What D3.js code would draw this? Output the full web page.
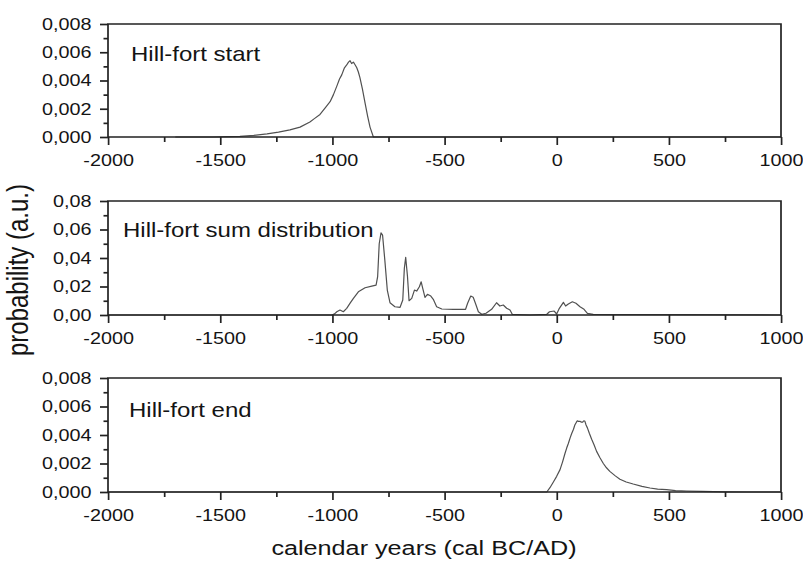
<!DOCTYPE html>
<html>
<head>
<meta charset="utf-8">
<script src="https://cdn.jsdelivr.net/npm/d3@7"></script>
<style>
  body { margin: 0; background: #fff; }
  text { font-family: Arial, "Liberation Sans", sans-serif; fill: #141414; }
  .axis line, .frame, .curve { vector-effect: non-scaling-stroke; }
</style>
</head>
<body>
<script>
// values (year cal BC/AD, probability)
var startYears = [-1700, -1532, -1470, -1412, -1350, -1291, -1240, -1189, -1144, -1100, -1080, -1055, -1030, -1010, -995, -980, -968, -958, -946, -936, -928, -921, -914, -906, -898, -891, -884, -877, -866, -854, -843, -832, -817, -700, 1000];
var startProb  = [0, 0, 0.00002, 0.00005, 0.00012, 0.00022, 0.00034, 0.0005, 0.0007, 0.00106, 0.0013, 0.0016, 0.0021, 0.0025, 0.0030, 0.0036, 0.0041, 0.0044, 0.0049, 0.0051, 0.0053, 0.0054, 0.0052, 0.0053, 0.0051, 0.0049, 0.0046, 0.0042, 0.0034, 0.0024, 0.0015, 0.0007, 0, 0, 0];

var sumYears = [-2000, -1003, -990, -980, -966, -951, -936, -920, -906, -884, -854, -824, -805, -798, -791, -783, -776, -766, -755, -743, -721, -698, -686, -679, -673, -665, -658, -646, -634, -624, -612, -604, -597, -587, -576, -561, -550, -535, -512, -461, -406, -397, -383, -372, -361, -349, -334, -315, -290, -268, -253, -238, -223, -208, -198, -120, -44, -32, -11, 0, 12, 30, 40, 52, 70, 86, 104, 122, 137, 163, 1000];
var sumProb  = [0, 0, 0.0008, 0.0023, 0.0035, 0.0023, 0.0047, 0.0085, 0.0117, 0.0163, 0.0191, 0.0203, 0.021, 0.027, 0.050, 0.0576, 0.056, 0.0385, 0.0175, 0.0086, 0.0058, 0.0054, 0.0105, 0.0327, 0.0404, 0.027, 0.010, 0.0117, 0.0175, 0.0168, 0.0198, 0.0233, 0.0187, 0.0124, 0.0145, 0.0133, 0.011, 0.0058, 0.0042, 0.004, 0.004, 0.0082, 0.0133, 0.0124, 0.0077, 0.0023, 0.0005, 0.0012, 0.004, 0.0086, 0.0063, 0.007, 0.0047, 0.0035, 0.0005, 0, 0.0005, 0.0023, 0.0028, 0.0007, 0.0047, 0.0089, 0.0063, 0.0077, 0.0093, 0.0082, 0.0058, 0.004, 0.0012, 0.0005, 0];

var endYears = [-2000, -44, -30, -14, 0, 15, 26, 37, 45, 52, 60, 67, 75, 81, 88, 92, 98, 104, 110, 116, 121, 126, 131, 137, 146, 156, 167, 178, 193, 208, 222, 237, 260, 282, 310, 341, 380, 416, 450, 490, 530, 580, 650, 750, 850, 1000];
var endProb  = [0, 0, 0.0003, 0.00072, 0.0011, 0.00157, 0.0021, 0.0027, 0.0031, 0.0034, 0.0038, 0.0041, 0.0044, 0.0047, 0.0049, 0.0050, 0.00495, 0.00496, 0.0049, 0.0049, 0.0050, 0.00496, 0.0047, 0.0045, 0.0041, 0.0037, 0.0033, 0.00285, 0.0024, 0.0020, 0.0017, 0.00145, 0.00115, 0.0009, 0.0007, 0.00056, 0.0004, 0.00028, 0.0002, 0.00016, 0.0001, 0.00007, 0.00004, 0.00001, 0, 0];

var yearTicks = [-2000, -1500, -1000, -500, 0, 500, 1000];
var yearMinor = [-1750, -1250, -750, -250, 250, 750];
var smallTicks = [0, 0.002, 0.004, 0.006, 0.008];
var smallMinor = [0.001, 0.003, 0.005, 0.007];
var sumTicks = [0, 0.02, 0.04, 0.06, 0.08];
var sumMinor = [0.01, 0.03, 0.05, 0.07];
var panelNames = ["Hill-fort start", "Hill-fort sum distribution", "Hill-fort end"];

// the figure is stretched horizontally, so draw in a narrower box and stretch it
var sx = 1.2;
var W = 803, H = 561;

var svg = d3.select("body").append("svg")
    .attr("width", W)
    .attr("height", H)
    .attr("viewBox", [0, 0, W / sx, H])
    .attr("preserveAspectRatio", "none");

var x = d3.scaleLinear().domain([-2000, 1000]).range([108 / sx, 781 / sx]);

var panels = [
  {years: startYears, prob: startProb, max: 0.008, major: smallTicks, minor: smallMinor, fmt: ".3f", top: 24, bottom: 137, labelX: 131, labelY: 61},
  {years: sumYears, prob: sumProb, max: 0.08, major: sumTicks, minor: sumMinor, fmt: ".2f", top: 201, bottom: 315, labelX: 123, labelY: 237},
  {years: endYears, prob: endProb, max: 0.008, major: smallTicks, minor: smallMinor, fmt: ".3f", top: 378, bottom: 492, labelX: 129, labelY: 417}
];

panels.forEach(function(p, k) {
  var y = d3.scaleLinear().domain([0, p.max]).range([p.bottom, p.top]);
  var fmt = d3.format(p.fmt);
  var g = svg.append("g");

  // curve
  var pts = p.years.map(function(yr, i) { return [yr, p.prob[i]]; });
  var line = d3.line()
      .x(function(d) { return x(d[0]); })
      .y(function(d) { return y(d[1]); });
  g.append("path")
      .datum(pts)
      .attr("class", "curve")
      .attr("fill", "none")
      .attr("stroke", "#505050")
      .attr("stroke-width", 1.2)
      .attr("stroke-linejoin", "round")
      .attr("d", line);

  // x axis, major and minor (plain hyphen for negatives, as in the figure)
  var xa = g.append("g").attr("class", "axis").attr("transform", "translate(0," + p.bottom + ")")
      .call(d3.axisBottom(x).tickValues(yearTicks).tickSize(8).tickPadding(9.6).tickFormat(function(d) { return String(d); }));
  var xm = g.append("g").attr("class", "axis").attr("transform", "translate(0," + p.bottom + ")")
      .call(d3.axisBottom(x).tickValues(yearMinor).tickSize(5).tickFormat(""));

  // y axis, major and minor
  var ya = g.append("g").attr("class", "axis").attr("transform", "translate(" + x(-2000) + ",0)")
      .call(d3.axisLeft(y).tickValues(p.major).tickSize(8 / sx).tickPadding(8.5 / sx)
        .tickFormat(function(d) { return fmt(d).replace(".", ","); }));
  var ym = g.append("g").attr("class", "axis").attr("transform", "translate(" + x(-2000) + ",0)")
      .call(d3.axisLeft(y).tickValues(p.minor).tickSize(4.5 / sx).tickFormat(""));

  [xa, xm, ya, ym].forEach(function(a) {
    a.select(".domain").remove();
    a.selectAll("line").attr("stroke", "#222").attr("stroke-width", 1.7);
    a.selectAll("text").attr("font-size", 16.5).attr("font-family", null).attr("fill", "#141414");
  });

  // frame
  g.append("rect")
      .attr("class", "frame")
      .attr("x", x(-2000))
      .attr("y", p.top)
      .attr("width", x(1000) - x(-2000))
      .attr("height", p.bottom - p.top)
      .attr("fill", "none")
      .attr("stroke", "#222")
      .attr("stroke-width", 1.7);

  g.append("text")
      .attr("x", p.labelX / sx)
      .attr("y", p.labelY)
      .attr("font-size", 20)
      .text(panelNames[k]);
});

svg.append("text")
    .attr("transform", "translate(" + (18 / sx) + ",270) rotate(-90)")
    .attr("text-anchor", "middle")
    .attr("dy", "0.35em")
    .attr("font-size", 24)
    .text("probability (a.u.)");

svg.append("text")
    .attr("x", 424 / sx)
    .attr("y", 555)
    .attr("text-anchor", "middle")
    .attr("font-size", 21)
    .text("calendar years (cal BC/AD)");
</script>
</body>
</html>
